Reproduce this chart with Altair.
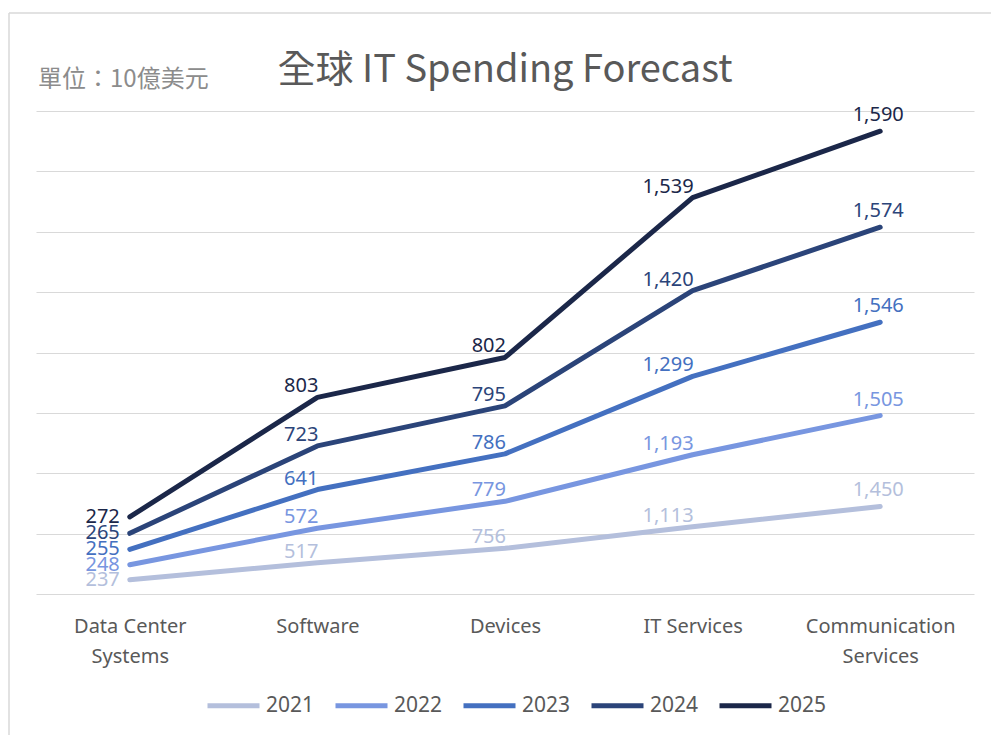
import altair as alt
import pandas as pd

categories = ["Data Center Systems", "Software", "Devices", "IT Services", "Communication Services"]
years = ["2021", "2022", "2023", "2024", "2025"]
v2021 = [237, 517, 756, 1113, 1450]
v2022 = [248, 572, 779, 1193, 1505]
v2023 = [255, 641, 786, 1299, 1546]
v2024 = [265, 723, 795, 1420, 1574]
v2025 = [272, 803, 802, 1539, 1590]
colors = ["#b4bfdc", "#7896e0", "#4470c0", "#2b4479", "#1b2749"]
grid_values = [0, 1000, 2000, 3000, 4000, 5000, 6000, 7000, 8000]
title_text = "全球 IT Spending Forecast"
unit_text = "單位：10億美元"

series = [v2021, v2022, v2023, v2024, v2025]
rows = []
for y, vals in zip(years, series):
    for i, (c, v) in enumerate(zip(categories, vals)):
        rows.append({"category": c, "idx": i, "year": y, "value": v})
df = pd.DataFrame(rows)

FONT = "Noto Sans CJK TC"
LATIN = "Noto Sans"

label_expr = ("datum.value == 'Data Center Systems' ? ['Data Center', 'Systems'] : "
              "datum.value == 'Communication Services' ? ['Communication', 'Services'] : datum.value")

color = alt.Color("year:N", scale=alt.Scale(domain=years, range=colors),
                  legend=alt.Legend(title=None, orient="none", direction="horizontal",
                                    legendX=169, legendY=566,
                                    symbolType="stroke", symbolSize=2704, symbolStrokeWidth=5,
                                    labelFontSize=21, labelColor="#595959", labelFont=LATIN,
                                    labelOffset=4, columnPadding=10))

x = alt.X("category:N", sort=categories,
          scale=alt.Scale(type="point", padding=0.5),
          axis=alt.Axis(title=None, labelAngle=0, labelExpr=label_expr, grid=False,
                        domain=False, ticks=False, labelPadding=22, labelFontSize=20,
                        labelColor="#595959", labelFont=LATIN, labelLineHeight=30))
y = alt.Y("cum:Q", scale=alt.Scale(domain=[0, 8000], nice=False),
          axis=alt.Axis(title=None, labels=False, ticks=False, domain=False, grid=True,
                        values=grid_values, gridColor="#d9d9d9", gridWidth=1.2))

base = alt.Chart(df).transform_window(
    cum="sum(value)", groupby=["category"], sort=[alt.SortField("year", order="ascending")],
    frame=[None, 0]
)

lines = base.mark_line(strokeWidth=5, strokeCap="round", strokeJoin="round").encode(
    x=x, y=y, color=color, order=alt.Order("idx:Q"), detail="year:N")

text_enc = dict(x=alt.X("category:N", sort=categories), y=alt.Y("cum:Q"),
                text=alt.Text("value:Q", format=","),
                color=alt.Color("year:N", scale=alt.Scale(domain=years, range=colors), legend=None))

t_first = base.transform_filter(alt.datum.category == categories[0]).mark_text(
    align="right", baseline="middle", dx=-10, fontSize=20, font=LATIN).encode(**text_enc)
t_mid = base.transform_filter(
    alt.FieldOneOfPredicate(field="category", oneOf=categories[1:4])).mark_text(
    align="right", baseline="alphabetic", dx=1, dy=-5, fontSize=20, font=LATIN).encode(**text_enc)
t_last = base.transform_filter(alt.datum.category == categories[4]).mark_text(
    align="center", baseline="alphabetic", dx=-2, dy=-10, fontSize=20, font=LATIN).encode(**text_enc)

unit = alt.Chart(pd.DataFrame({"t": [unit_text]})).mark_text(
    align="left", baseline="middle", fontSize=24, font=FONT, color="#8c8c8c").encode(
    text="t:N", x=alt.value(2), y=alt.value(-31))

title = alt.Chart(pd.DataFrame({"t": [title_text]})).mark_text(
    align="center", baseline="alphabetic", fontSize=38, font=FONT, color="#595959").encode(
    text="t:N", x=alt.value(469), y=alt.value(-29))

frame_top = alt.Chart(pd.DataFrame({"a": [0]})).mark_rule(color="#d9d9d9", strokeWidth=1.5).encode(
    x=alt.value(-27), x2=alt.value(960), y=alt.value(-98))
frame_left = alt.Chart(pd.DataFrame({"a": [0]})).mark_rule(color="#d9d9d9", strokeWidth=1.5).encode(
    x=alt.value(-27), y=alt.value(-98), y2=alt.value(630))

chart = alt.layer(frame_top, frame_left, lines, t_first, t_mid, t_last, unit, title).properties(
    width=938, height=483,
    padding={"left": 36, "top": 111, "right": 17, "bottom": 141},
    autosize=alt.AutoSizeParams(type="none"),
).configure(background="white").configure_view(stroke="transparent", strokeWidth=0)

chart.save("out.html", embed_options={"renderer": "svg", "actions": False})
